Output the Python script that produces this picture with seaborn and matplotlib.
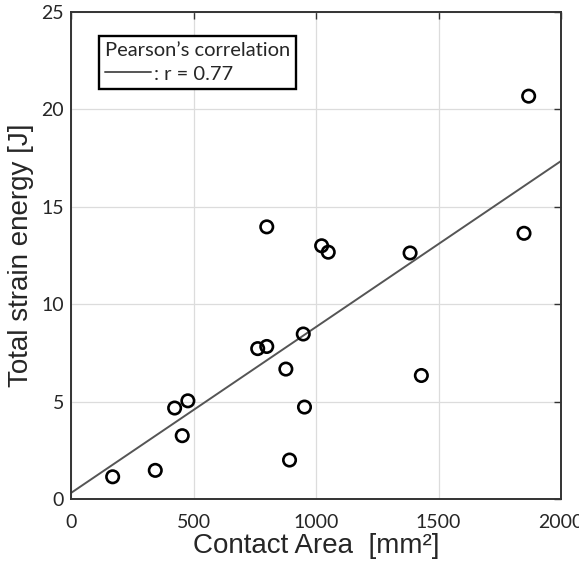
import pandas as pd
import matplotlib
matplotlib.use("Agg")
import matplotlib.pyplot as plt
import seaborn as sns

# data
contact_area = [170, 344, 423, 477, 454, 762, 799, 799, 877, 892,
                948, 953, 1023, 1050, 1384, 1430, 1849, 1868]
strain_energy = [1.14, 1.47, 4.67, 5.04, 3.25, 7.72, 7.83, 13.97, 6.67, 2.00,
                 8.47, 4.72, 13.00, 12.67, 12.63, 6.34, 13.64, 20.68]
fit_x = [0, 2000]
fit_y = [0.31, 17.35]
x_ticks = [0, 500, 1000, 1500, 2000]
y_ticks = [0, 5, 10, 15, 20, 25]

df = pd.DataFrame({"area": contact_area, "energy": strain_energy})
df_fit = pd.DataFrame({"area": fit_x, "energy": fit_y})

sns.set_theme(style="whitegrid")
plt.rcParams["font.family"] = ["Liberation Sans", "DejaVu Sans"]
tick_font = ["Lato", "DejaVu Sans"]

fig = plt.figure(figsize=(5.79, 5.64), dpi=100)
ax = fig.add_axes([71 / 579, 1 - 499 / 564, 490 / 579, 487 / 564])

sns.lineplot(x="area", y="energy", data=df_fit, ax=ax, color="#555555",
             linewidth=1.4, label=": r = 0.77")
sns.scatterplot(x="area", y="energy", data=df, ax=ax, s=80, marker="o",
                facecolor="none", edgecolor="black", linewidth=1.9, zorder=3)

ax.set_xlim(0, 2000)
ax.set_ylim(0, 25)
ax.set_xticks(x_ticks)
ax.set_yticks(y_ticks)
ax.grid(True, color="#dcdcdc", linewidth=0.9)
for s in ax.spines.values():
    s.set_color("#333333")
    s.set_linewidth(1.4)
ax.tick_params(direction="in", length=5, width=1, color="#333333",
               top=True, right=True, labelsize=14)
ax.tick_params(axis="x", pad=11)
ax.tick_params(axis="y", pad=5)
for lab in ax.get_xticklabels() + ax.get_yticklabels():
    lab.set_family(tick_font)

ax.set_xlabel("Contact Area  [mm\u00b2]", fontsize=20, labelpad=1)
ax.set_ylabel("Total strain energy [J]", fontsize=20, labelpad=5)

leg = ax.legend(title="Pearson\u2019s correlation", loc="upper left",
                bbox_to_anchor=(0.057, 0.95), borderaxespad=0,
                frameon=True, fancybox=False,
                handlelength=2.3, handletextpad=0.15, borderpad=0.3,
                labelspacing=0.3,
                prop={"family": tick_font, "size": 14.5})
leg.get_title().set_fontsize(14.5)
leg.get_title().set_family(tick_font)
leg._legend_box.align = "left"
leg.get_frame().set_edgecolor("black")
leg.get_frame().set_linewidth(1.7)
leg.get_frame().set_alpha(1)

fig.savefig("out.png", dpi=100)
